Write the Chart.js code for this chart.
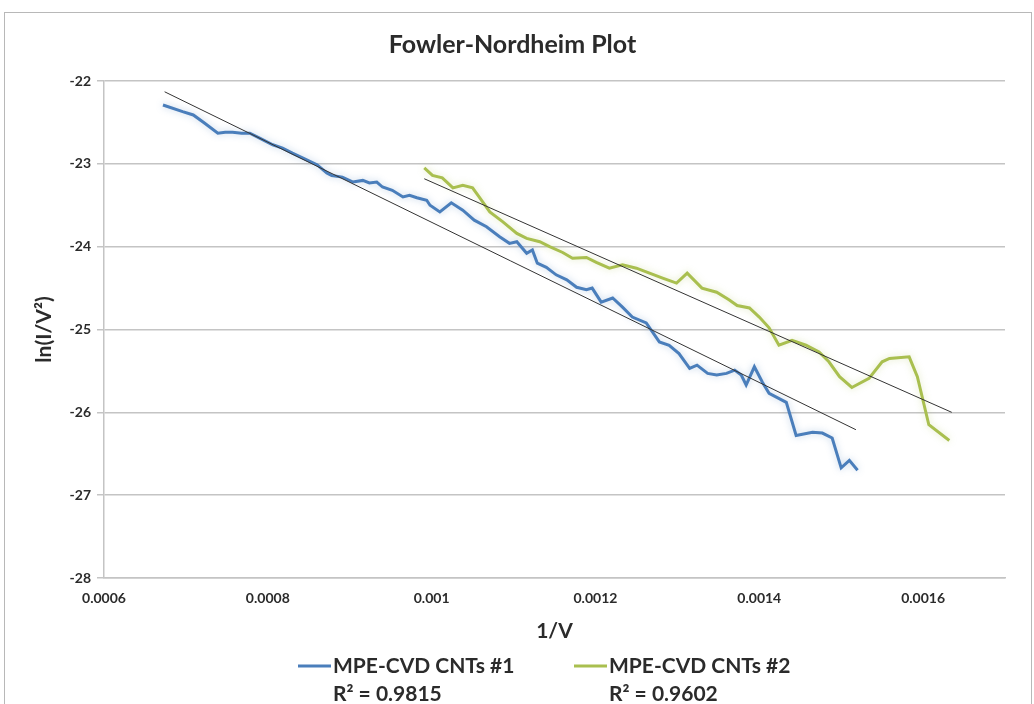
<!DOCTYPE html>
<html>
<head>
<meta charset="utf-8">
<title>Fowler-Nordheim Plot</title>
<script src="https://cdn.jsdelivr.net/npm/chart.js@4.4.1/dist/chart.umd.min.js"></script>
<style>
    html, body { margin: 0; padding: 0; background: #fff; }
    #frame { position: absolute; left: 4px; top: 12px; width: 1026px; height: 700px; border: 1px solid #b8b8b8; }
    #wrap { position: absolute; left: 0; top: 0; width: 1034px; height: 704px; }
</style>
</head>
<body>
<div id="frame"></div>
<div id="wrap"><canvas id="fn-plot" width="1034" height="704"></canvas></div>
<script>
// Sample #1 (blue)
var xs1 = [0.000672, 0.000696, 0.000709, 0.000723, 0.000739, 0.000748, 0.000757, 0.000768, 0.000778, 0.000790,
           0.000806, 0.000818, 0.000830, 0.000843, 0.000860, 0.000872, 0.000878, 0.000891, 0.000904, 0.000916,
           0.000924, 0.000933, 0.000940, 0.000952, 0.000965, 0.000973, 0.000982, 0.000994, 0.000998, 0.001010,
           0.001024, 0.001038, 0.001052, 0.001067, 0.001083, 0.001095, 0.001104, 0.001116, 0.001123, 0.001129,
           0.001140, 0.001152, 0.001165, 0.001177, 0.001189, 0.001196, 0.001207, 0.001221, 0.001233, 0.001245,
           0.001262, 0.001278, 0.001290, 0.001302, 0.001315, 0.001324, 0.001337, 0.001348, 0.001360, 0.001370,
           0.001378, 0.001384, 0.001394, 0.001404, 0.001412, 0.001433, 0.001445, 0.001465, 0.001477, 0.001489,
           0.001500, 0.001510, 0.001520];
var ys1 = [-22.29, -22.37, -22.41, -22.51, -22.63, -22.62, -22.62, -22.63, -22.63, -22.69,
           -22.77, -22.81, -22.87, -22.93, -23.01, -23.11, -23.14, -23.16, -23.22, -23.20,
           -23.23, -23.22, -23.28, -23.32, -23.40, -23.38, -23.41, -23.44, -23.50, -23.58,
           -23.47, -23.56, -23.68, -23.76, -23.88, -23.96, -23.94, -24.08, -24.04, -24.20,
           -24.25, -24.34, -24.40, -24.49, -24.52, -24.50, -24.67, -24.62, -24.73, -24.85,
           -24.92, -25.15, -25.19, -25.29, -25.47, -25.43, -25.53, -25.55, -25.53, -25.49,
           -25.55, -25.67, -25.45, -25.64, -25.77, -25.88, -26.28, -26.24, -26.25, -26.31,
           -26.67, -26.58, -26.70];

// Sample #2 (green)
var xs2 = [0.000991, 0.001001, 0.001013, 0.001026, 0.001038, 0.001050, 0.001061, 0.001071, 0.001087, 0.001104,
           0.001116, 0.001132, 0.001144, 0.001160, 0.001172, 0.001189, 0.001201, 0.001217, 0.001233, 0.001250,
           0.001266, 0.001282, 0.001299, 0.001312, 0.001330, 0.001348, 0.001363, 0.001373, 0.001388, 0.001400,
           0.001412, 0.001424, 0.001440, 0.001457, 0.001473, 0.001485, 0.001498, 0.001513, 0.001534, 0.001550,
           0.001559, 0.001583, 0.001593, 0.001607, 0.001632];
var ys2 = [-23.05, -23.14, -23.17, -23.29, -23.26, -23.29, -23.44, -23.58, -23.70, -23.84,
           -23.90, -23.94, -24.00, -24.07, -24.14, -24.13, -24.19, -24.26, -24.22, -24.26,
           -24.32, -24.38, -24.44, -24.32, -24.50, -24.55, -24.64, -24.71, -24.74, -24.85,
           -24.98, -25.19, -25.13, -25.19, -25.27, -25.39, -25.57, -25.70, -25.59, -25.39,
           -25.35, -25.33, -25.57, -26.15, -26.34];

// Linear trendlines as drawn in the original (end points)
var trendX1 = [0.000674, 0.001518];
var trendY1 = [-22.13, -26.21];
var trendX2 = [0.000991, 0.001635];
var trendY2 = [-23.18, -26.00];

var seriesNames = ["MPE-CVD CNTs #1", "MPE-CVD CNTs #2"];
var rSquared = ["R\u00B2 = 0.9815", "R\u00B2 = 0.9602"];
var xTicks = [0.0006, 0.0008, 0.001, 0.0012, 0.0014, 0.0016];
var yTicks = [-28, -27, -26, -25, -24, -23, -22];

var colors = ["#4a7ebb", "#a9bf4f"];
var FONT = 'Lato, "Open Sans", sans-serif';
var TXT = "#2b2b2b";

function toPoints(xs, ys) {
    return xs.map(function (x, i) { return {x: x, y: ys[i]}; });
}

// soft halo under the data lines, like the original
var glow = {
    id: 'glow',
    beforeDatasetDraw: function (chart, args) {
        var ds = chart.data.datasets[args.index];
        if (!ds.glow) return;
        chart.ctx.save();
        chart.ctx.shadowColor = ds.glow;
        chart.ctx.shadowBlur = 7;
    },
    afterDatasetDraw: function (chart, args) {
        if (chart.data.datasets[args.index].glow) chart.ctx.restore();
    }
};

// legend with the trendline R² labels under it
var legendX = [298, 574];
var fnLegend = {
    id: 'fnLegend',
    afterDraw: function (chart) {
        var ctx = chart.ctx;
        ctx.save();
        ctx.textBaseline = "middle";
        ctx.textAlign = "left";
        seriesNames.forEach(function (name, i) {
            var x0 = legendX[i];
            ctx.strokeStyle = colors[i];
            ctx.lineWidth = 3;
            ctx.beginPath();
            ctx.moveTo(x0, 666);
            ctx.lineTo(x0 + 33, 666);
            ctx.stroke();
            ctx.fillStyle = TXT;
            ctx.font = "bold 21px " + FONT;
            ctx.fillText(name, x0 + 35, 666);
            ctx.fillText(rSquared[i], x0 + 35, 694);
        });
        ctx.restore();
    }
};

var ctx = document.getElementById("fn-plot").getContext("2d");
var fnChart = new Chart(ctx, {
    type: "line",
    data: {
        datasets: [
            {
                label: seriesNames[0],
                data: toPoints(xs1, ys1),
                borderColor: colors[0],
                borderWidth: 3,
                glow: "rgba(74, 126, 187, 0.35)",
                order: 1
            },
            {
                label: seriesNames[1],
                data: toPoints(xs2, ys2),
                borderColor: colors[1],
                borderWidth: 3,
                glow: "rgba(169, 191, 79, 0.35)",
                order: 1
            },
            {
                label: "Linear (" + seriesNames[0] + ")",
                data: toPoints(trendX1, trendY1),
                borderColor: "#333333",
                borderWidth: 1,
                order: 0
            },
            {
                label: "Linear (" + seriesNames[1] + ")",
                data: toPoints(trendX2, trendY2),
                borderColor: "#333333",
                borderWidth: 1,
                order: 0
            }
        ]
    },
    options: {
        responsive: false,
        animation: false,
        parsing: false,
        elements: {
            point: { radius: 0 },
            line: { tension: 0, fill: false }
        },
        layout: {
            padding: { left: 20, right: 29, top: 0, bottom: 60 }
        },
        plugins: {
            legend: { display: false },
            tooltip: { enabled: false },
            title: {
                display: true,
                text: "Fowler-Nordheim Plot",
                color: TXT,
                font: { family: FONT, size: 25, weight: "bold" },
                padding: { top: 30, bottom: 21 }
            }
        },
        scales: {
            x: {
                type: "linear",
                min: 0.0006,
                max: 0.0017,
                afterBuildTicks: function (axis) {
                    axis.ticks = xTicks.map(function (v) { return {value: v}; });
                },
                afterFit: function (axis) { axis.height = 66; },
                grid: { display: false, drawTicks: false },
                border: { display: true, color: "#c4c4c4", width: 1.5 },
                ticks: {
                    padding: 12,
                    color: TXT,
                    font: { family: FONT, size: 14, weight: "bold" },
                    maxRotation: 0,
                    callback: function (v) { return String(+v.toFixed(4)); }
                },
                title: {
                    display: true,
                    text: "1/V",
                    color: TXT,
                    font: { family: FONT, size: 21, weight: "bold" },
                    padding: { top: 0, bottom: 0 }
                }
            },
            y: {
                min: -28,
                max: -22,
                afterBuildTicks: function (axis) {
                    axis.ticks = yTicks.map(function (v) { return {value: v}; });
                },
                afterFit: function (axis) { axis.width = 84; },
                grid: { color: "#c4c4c4", lineWidth: 1.5, tickLength: 7 },
                border: { display: true, color: "#c4c4c4", width: 1.5 },
                ticks: {
                    padding: 6,
                    color: TXT,
                    font: { family: FONT, size: 14, weight: "bold" }
                },
                title: {
                    display: true,
                    text: "ln(I/V\u00B2)",
                    color: TXT,
                    font: { family: FONT, size: 21, weight: "bold" },
                    padding: { top: 12, bottom: 0 }
                }
            }
        }
    },
    plugins: [glow, fnLegend]
});
</script>
</body>
</html>
